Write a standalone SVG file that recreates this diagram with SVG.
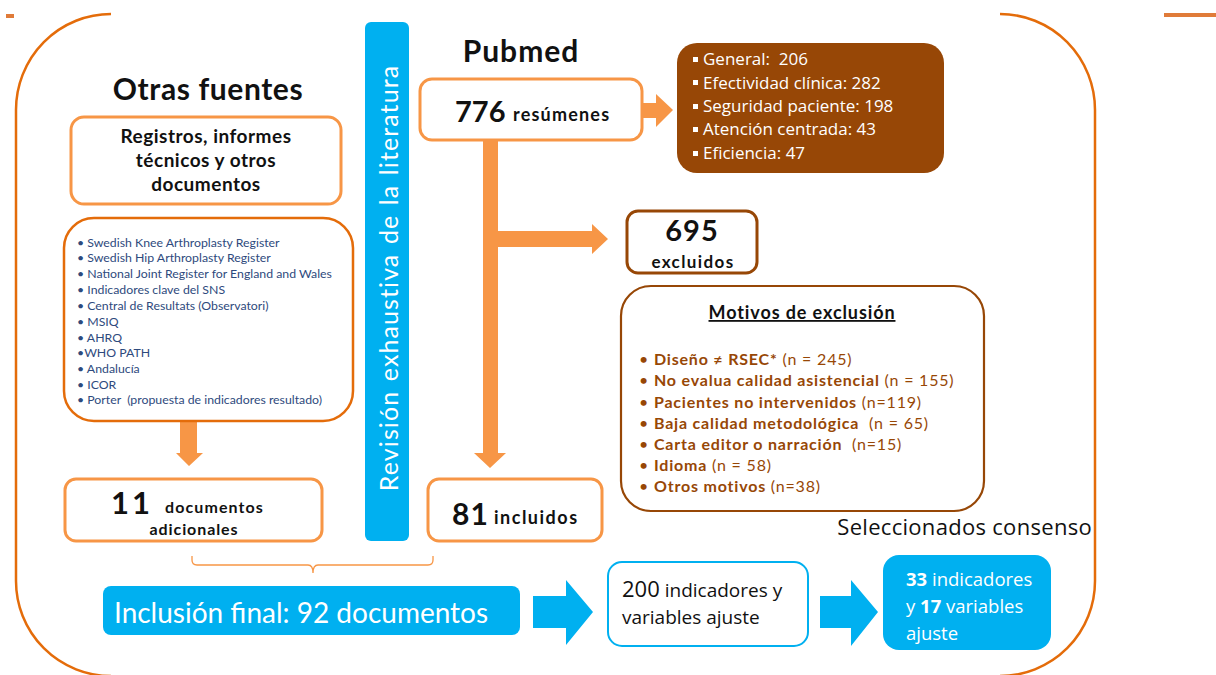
<svg xmlns="http://www.w3.org/2000/svg" width="1216" height="675" viewBox="0 0 1216 675">
  <defs>
    <style>
      .gs { font-family: Lato, "Open Sans", "Liberation Sans", sans-serif; }
      .cb { font-family: "Open Sans", Lato, "Liberation Sans", sans-serif; }
      .box { fill: #ffffff; stroke: #F79646; stroke-width: 3; }
      .brn { fill: #ffffff; stroke: #974706; }
      .blu { fill: #00B0F0; }
      .arr { fill: #F79646; }
      .h1 { font-weight: 700; font-size: 30px; fill: #111111; text-anchor: middle; }
      .bt { font-weight: 700; fill: #111111; }
      .lst { font-size: 12.3px; fill: #2E4A7D; }
      .mot { font-size: 16px; fill: #974706; letter-spacing: 0.8px; }
      .wht { fill: #ffffff; }
    </style>
  </defs>

  <!-- slide decorations -->
  <rect x="6" y="14" width="8" height="4" fill="#E07B39"/>
  <rect x="1164" y="13" width="52" height="4" fill="#E07B39"/>

  <!-- outer frame (top edge falls outside the slide) -->
  <path d="M111 14 A95 96 0 0 0 16 110 V581 A95 95 0 0 0 111 676 M1000 676 A95 95 0 0 0 1095 581 V110 A95 96 0 0 0 1000 14" fill="none" stroke="#E46C0A" stroke-width="2.5"/>

  <!-- connectors -->
  <g id="connectors">
    <!-- list to 11 documentos -->
    <polygon class="arr" points="180,421 197,421 197,453 203,453 189,466 176,453 180,453"/>
    <!-- 776 to categories -->
    <polygon class="arr" points="643,103 656,103 656,94 673,110 656,127 656,118 643,118"/>
    <!-- 776 down to 81 -->
    <polygon class="arr" points="483,140 498,140 498,231 592,231 592,224 608,239 592,254 592,247 498,247 498,453 506,453 490,468 474,453 483,453"/>
    <!-- brace joining both sources -->
    <path d="M192 556 V560 Q192 565 197 565 H308 Q313 565 313 573 Q313 565 318 565 H428 Q433 565 433 560 V556" fill="none" stroke="#F79646" stroke-width="1.3"/>
    <!-- final inclusion to 200 -->
    <polygon class="blu" points="533,596 566,596 566,580 593,612 566,645 566,628 533,628"/>
    <!-- 200 to 33 -->
    <polygon class="blu" points="820,596 851,596 851,580 878,612 851,646 851,628 820,628"/>
  </g>

  <!-- Otras fuentes -->
  <g id="otras-fuentes">
    <text class="gs h1" x="208" y="100" letter-spacing="0.6">Otras fuentes</text>
  </g>

  <g id="registros">
    <rect class="box" x="71" y="117" width="270" height="87" rx="13"/>
    <g class="gs bt" font-size="19" text-anchor="middle" letter-spacing="0.5">
      <text x="206" y="143">Registros, informes</text>
      <text x="206" y="167">técnicos y otros</text>
      <text x="206" y="191">documentos</text>
    </g>
  </g>

  <g id="lista-fuentes">
    <rect x="64" y="218" width="289" height="203" rx="30" fill="#ffffff" stroke="#E46C0A" stroke-width="2.5"/>
    <g class="gs lst">
      <text x="77" y="247">• Swedish Knee Arthroplasty Register</text>
      <text x="77" y="262">• Swedish Hip Arthroplasty Register</text>
      <text x="77" y="278">• National Joint Register for England and Wales</text>
      <text x="77" y="294">• Indicadores clave del SNS</text>
      <text x="77" y="310">• Central de Resultats (Observatori)</text>
      <text x="77" y="326">• MSIQ</text>
      <text x="77" y="342">• AHRQ</text>
      <text x="77" y="357">•WHO PATH</text>
      <text x="77" y="373">• Andalucía</text>
      <text x="77" y="389">• ICOR</text>
      <text x="77" y="404">• Porter&#160; (propuesta de indicadores resultado)</text>
    </g>
  </g>

  <g id="adicionales">
    <rect class="box" x="65" y="479" width="257" height="62" rx="11"/>
    <text class="gs bt" x="111" y="514" font-size="31" letter-spacing="3">11</text>
    <text class="gs bt" x="165" y="513" font-size="16" letter-spacing="1.1">documentos</text>
    <text class="gs bt" x="194" y="535" font-size="16" letter-spacing="0.9" text-anchor="middle">adicionales</text>
  </g>

  <!-- literature review bar -->
  <g id="revision">
    <rect class="blu" x="365" y="22" width="44" height="519" rx="6"/>
    <text class="gs wht" transform="translate(398 278) rotate(-90)" font-size="25" letter-spacing="1.1" word-spacing="2" text-anchor="middle">Revisión exhaustiva de la literatura</text>
  </g>

  <!-- Pubmed -->
  <g id="pubmed">
    <text class="gs h1" x="521" y="62" letter-spacing="1">Pubmed</text>
  </g>

  <g id="resumenes">
    <rect class="box" x="420" y="79" width="222" height="61" rx="12"/>
    <text class="gs bt" x="455" y="122" font-size="29">776</text>
    <text class="gs bt" x="513" y="121" font-size="18" letter-spacing="1.2">resúmenes</text>
  </g>

  <g id="dimensiones">
    <rect x="677" y="43" width="267" height="130" rx="20" fill="#974706"/>
    <g class="cb wht" font-size="17">
      <rect x="693" y="57" width="5" height="5"/>
      <text x="703" y="65">General:&#160; 206</text>
      <rect x="693" y="80" width="5" height="5"/>
      <text x="703" y="89">Efectividad clínica: 282</text>
      <rect x="693" y="104" width="5" height="5"/>
      <text x="703" y="112">Seguridad paciente: 198</text>
      <rect x="693" y="127" width="5" height="5"/>
      <text x="703" y="135">Atención centrada: 43</text>
      <rect x="693" y="151" width="5" height="5"/>
      <text x="703" y="159">Eficiencia: 47</text>
    </g>
  </g>

  <g id="excluidos">
    <rect class="brn" x="627" y="211" width="130" height="62" rx="11" stroke-width="3"/>
    <text class="gs bt" x="692" y="241" font-size="29" letter-spacing="1" text-anchor="middle">695</text>
    <text class="gs bt" x="693" y="268" font-size="17" letter-spacing="1.4" text-anchor="middle">excluidos</text>
  </g>

  <g id="motivos">
    <rect class="brn" x="621" y="286" width="363" height="225" rx="30" stroke-width="2.2"/>
    <text class="gs bt" x="802" y="319" font-size="18" letter-spacing="0.9" text-anchor="middle" text-decoration="underline">Motivos de exclusión</text>
    <g class="gs mot">
      <text x="639" y="365">• <tspan font-weight="700">Diseño ≠ RSEC*</tspan> (n = 245)</text>
      <text x="639" y="386">• <tspan font-weight="700">No evalua calidad asistencial</tspan> (n = 155)</text>
      <text x="639" y="408">• <tspan font-weight="700">Pacientes no intervenidos</tspan> (n=119)</text>
      <text x="639" y="429">• <tspan font-weight="700">Baja calidad metodológica</tspan>&#160; (n = 65)</text>
      <text x="639" y="450">• <tspan font-weight="700">Carta editor o narración</tspan>&#160; (n=15)</text>
      <text x="639" y="471">• <tspan font-weight="700">Idioma</tspan> (n = 58)</text>
      <text x="639" y="492">• <tspan font-weight="700">Otros motivos</tspan> (n=38)</text>
    </g>
  </g>

  <g id="incluidos">
    <rect class="box" x="428" y="479" width="174" height="62" rx="11"/>
    <text class="gs bt" x="452" y="525" font-size="30" letter-spacing="1">81</text>
    <text class="gs bt" x="494" y="524" font-size="18" letter-spacing="1.5">incluidos</text>
  </g>

  <g id="inclusion-final">
    <rect class="blu" x="103" y="586" width="417" height="49" rx="8"/>
    <text class="gs wht" x="114" y="623" font-size="28">Inclusión final: 92 documentos</text>
  </g>

  <g id="indicadores-200">
    <rect x="608" y="562" width="200" height="84" rx="14" fill="#ffffff" stroke="#00B0F0" stroke-width="2"/>
    <text class="cb" x="622" y="597" font-size="19" fill="#111111"><tspan font-size="22">200</tspan> indicadores y</text>
    <text class="cb" x="622" y="624" font-size="19" fill="#111111">variables ajuste</text>
  </g>

  <g id="consenso">
    <text class="cb" x="1092" y="535" font-size="22" letter-spacing="0.3" text-anchor="end" fill="#111111">Seleccionados consenso</text>
  </g>

  <g id="indicadores-33">
    <rect class="blu" x="883" y="555" width="168" height="95" rx="16"/>
    <g class="cb wht" font-size="18.5">
      <text x="906" y="586"><tspan font-weight="700">33</tspan> indicadores</text>
      <text x="906" y="613">y <tspan font-weight="700">17</tspan> variables</text>
      <text x="906" y="640">ajuste</text>
    </g>
  </g>
</svg>
